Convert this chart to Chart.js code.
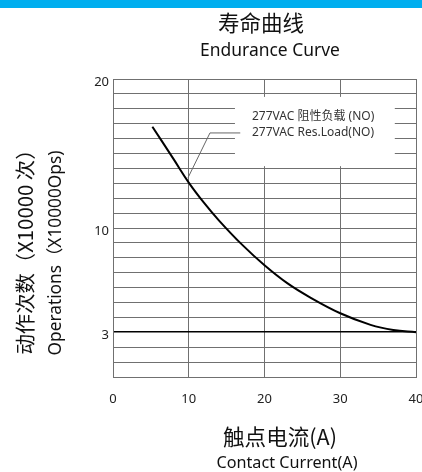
<!DOCTYPE html>
<html>
<head>
<meta charset="utf-8">
<script src="https://cdn.jsdelivr.net/npm/chart.js@4"></script>
<style>
html,body{margin:0;padding:0;background:#fff;}
#wrap{position:relative;width:422px;height:472px;}
</style>
</head>
<body>
<div id="wrap"><canvas id="c"></canvas></div>
<script>
// ---- data ----
const currentA = [5.2, 8, 10, 12, 14, 17, 20, 23, 26, 30, 34, 37, 40];
const operations = [16.8, 14.62, 13.05, 11.7, 10.5, 8.9, 7.5, 6.3, 5.35, 4.28, 3.5, 3.15, 3.0];
const yLabelValues = [20, 10, 3];
const xTickValues = [0, 10, 20, 30, 40];
const titleCN = '寿命曲线';
const titleEN = 'Endurance Curve';
const xTitleCN = '触点电流(A)';
const xTitleEN = 'Contact Current(A)';
const yTitleCN = '动作次数（X10000 次）';
const yTitleEN = 'Operations（X10000Ops)';
const legendCN = '277VAC 阻性负载 (NO)';
const legendEN = '277VAC Res.Load(NO)';

const LATIN = "'Noto Sans', 'Noto Sans CJK SC', sans-serif";
const CJK = "'Noto Sans CJK SC', 'Noto Sans', sans-serif";

function fitText(ctx, text, cx, cy, width, family, rot) {
  ctx.save();
  ctx.font = '100px ' + family;
  const m = ctx.measureText(text).width;
  const size = 100 * width / m;
  ctx.font = size.toFixed(2) + 'px ' + family;
  ctx.textAlign = 'center';
  ctx.textBaseline = 'middle';
  ctx.translate(cx, cy);
  if (rot) ctx.rotate(rot);
  ctx.fillText(text, 0, 0);
  ctx.restore();
}

const overlay = {
  id: 'overlay',
  beforeDatasetsDraw(chart) {
    const ctx = chart.ctx, xs = chart.scales.x, ys = chart.scales.y;
    // legend white box
    const bx0 = xs.getPixelForValue(16.1), bx1 = xs.getPixelForValue(37.2);
    const by0 = ys.getPixelForValue(18.8), by1 = ys.getPixelForValue(14.15);
    ctx.save();
    ctx.fillStyle = '#fff';
    ctx.fillRect(bx0, by0, bx1 - bx0, by1 - by0);
    // leader line
    ctx.strokeStyle = '#666';
    ctx.lineWidth = 1;
    ctx.beginPath();
    ctx.moveTo(xs.getPixelForValue(16.8), ys.getPixelForValue(16.38));
    ctx.lineTo(xs.getPixelForValue(12.8), ys.getPixelForValue(16.38));
    ctx.lineTo(xs.getPixelForValue(9.9), ys.getPixelForValue(13.37));
    ctx.stroke();
    ctx.restore();
    // legend texts
    ctx.save();
    ctx.fillStyle = '#333';
    ctx.font = "12px " + LATIN;
    ctx.textAlign = 'left';
    ctx.textBaseline = 'middle';
    const lx = xs.getPixelForValue(18.35);
    ctx.fillText(legendCN, lx, ys.getPixelForValue(17.45));
    ctx.fillText(legendEN, lx, ys.getPixelForValue(16.38));
    ctx.restore();
  },
  afterDraw(chart) {
    const ctx = chart.ctx;
    ctx.save();
    ctx.fillStyle = '#00AEEF';
    ctx.fillRect(0, 0, chart.width, 8);
    ctx.fillStyle = '#111';
    fitText(ctx, titleCN, 261, 23, 86, CJK, 0);
    fitText(ctx, titleEN, 270, 51, 140, LATIN, 0);
    fitText(ctx, xTitleCN, 280, 437, 114, CJK, 0);
    fitText(ctx, xTitleEN, 287, 463, 141, LATIN, 0);
    fitText(ctx, yTitleCN, 25, 247, 215, CJK, -Math.PI / 2);
    fitText(ctx, yTitleEN, 56, 253, 205, LATIN, -Math.PI / 2);
    ctx.restore();
  }
};

new Chart(document.getElementById('c'), {
  type: 'scatter',
  data: {
    datasets: [{
      data: currentA.map((x, i) => ({ x: x, y: operations[i] })),
      showLine: true,
      borderColor: '#000',
      borderWidth: 2,
      pointRadius: 0,
      tension: 0.4,
      fill: false
    }]
  },
  options: {
    responsive: true,
    maintainAspectRatio: false,
    animation: false,
    devicePixelRatio: 1,
    layout: { padding: { left: 0, right: 6, top: 79, bottom: 0 } },
    plugins: { legend: { display: false }, tooltip: { enabled: false }, title: { display: false } },
    scales: {
      x: {
        type: 'linear',
        min: 0, max: 40,
        afterFit(scale) { scale.height = 95; scale.paddingLeft = 0; scale.paddingRight = 0; },
        afterBuildTicks(scale) { scale.ticks = xTickValues.map(v => ({ value: v })); },
        grid: {
          color: '#707070',
          lineWidth: 1,
          drawTicks: false
        },
        border: { color: '#707070', width: 1 },
        ticks: {
          padding: 14,
          color: '#222',
          font: { family: LATIN, size: 13 },
          maxRotation: 0,
          autoSkip: false
        }
      },
      y: {
        type: 'linear',
        min: 0, max: 20,
        afterFit(scale) { scale.width = 113; scale.paddingTop = 0; scale.paddingBottom = 0; },
        grid: {
          color: (c) => (c.tick && c.tick.value === 3) ? '#000' : '#707070',
          lineWidth: (c) => (c.tick && c.tick.value === 3) ? 1.6 : 1,
          drawTicks: false
        },
        border: { color: '#707070', width: 1 },
        ticks: {
          stepSize: 1,
          autoSkip: false,
          padding: 4,
          labelOffset: 3,
          color: '#222',
          font: { family: LATIN, size: 13 },
          callback: (v) => yLabelValues.includes(v) ? String(v) : ''
        }
      }
    }
  },
  plugins: [overlay]
});
</script>
</body>
</html>
